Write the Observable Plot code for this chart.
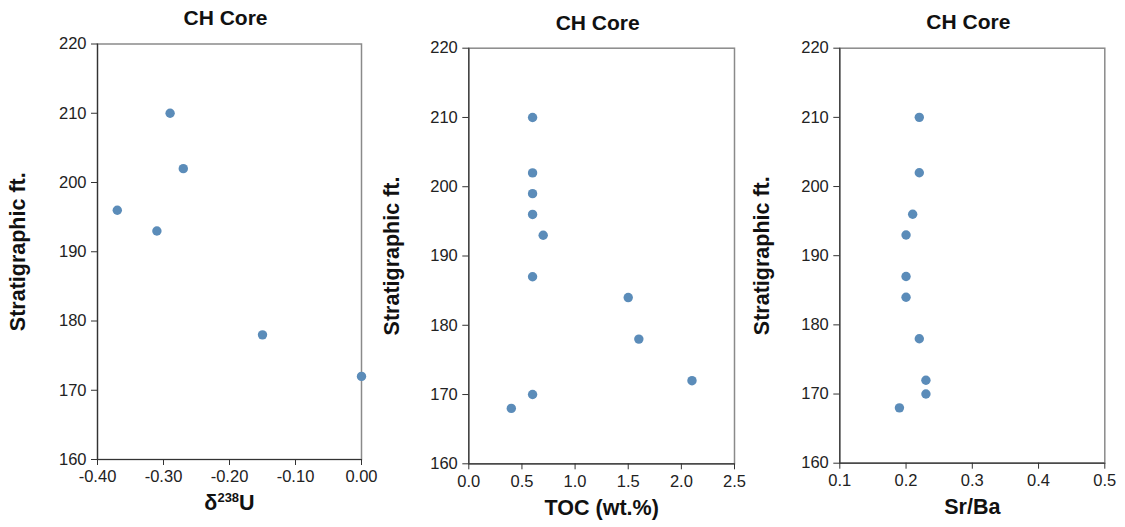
<!DOCTYPE html>
<html>
<head>
<meta charset="utf-8">
<script src="https://cdn.jsdelivr.net/npm/d3@7"></script>
<script src="https://cdn.jsdelivr.net/npm/@observablehq/plot@0.6"></script>
<style>
  html, body { margin: 0; padding: 0; background: #fff; }
  #wrap { position: relative; width: 1125px; height: 527px; overflow: hidden; background: #fff; }
  #wrap > div { position: absolute; top: 0; }
  svg { font-family: "Liberation Sans", Arial, Helvetica, sans-serif; overflow: visible; }
</style>
</head>
<body>
<div id="wrap">
  <div id="p1" style="left:0px; z-index:3"></div>
  <div id="p2" style="left:375px; z-index:2"></div>
  <div id="p3" style="left:750px; z-index:1"></div>
</div>
<script>
// Depth (stratigraphic ft.) and measured values
const uDepth  = [210, 202, 196, 193, 178, 172];
const uValue  = [-0.29, -0.27, -0.37, -0.31, -0.15, 0.00];

const tocDepth = [210, 202, 199, 196, 193, 187, 184, 178, 172, 170, 168];
const tocValue = [0.6, 0.6, 0.6, 0.6, 0.7, 0.6, 1.5, 1.6, 2.1, 0.6, 0.4];

const srDepth = [210, 202, 196, 193, 187, 184, 178, 172, 170, 168];
const srValue = [0.22, 0.22, 0.21, 0.20, 0.20, 0.20, 0.22, 0.23, 0.23, 0.19];

const yTicks = [160, 170, 180, 190, 200, 210, 220];
const uTicks = [-0.40, -0.30, -0.20, -0.10, 0.00];
const tocTicks = [0.0, 0.5, 1.0, 1.5, 2.0, 2.5];
const srTicks = [0.1, 0.2, 0.3, 0.4, 0.5];

const titleText = "CH Core";
const yLabel = "Stratigraphic ft.";
const xLabels = ["δ238U", "TOC (wt.%)", "Sr/Ba"];

const dotColor = "#5b8cb9";

function panel(cfg) {
  const data = cfg.values.map((v, i) => ({x: v, y: cfg.depth[i]}));
  return Plot.plot({
    width: 375,
    height: 527,
    marginLeft: cfg.ml,
    marginRight: cfg.mr,
    marginTop: cfg.mt,
    marginBottom: cfg.mb,
    style: {fontFamily: "'Liberation Sans', Arial, sans-serif", fontSize: "16.5px",
            background: "transparent", overflow: "visible"},
    x: {domain: cfg.xDomain},
    y: {domain: [160, 220]},
    marks: [
      Plot.frame({stroke: "#8a8a8a", strokeWidth: 1.5}),
      Plot.ruleY([160], {stroke: "#333", strokeWidth: 1.2}),
      Plot.ruleX([cfg.xDomain[0]], {stroke: "#333", strokeWidth: 1.2}),
      Plot.axisX({ticks: cfg.xTicks, tickFormat: cfg.fmt, tickSize: 6, tickPadding: 5,
                  fontSize: 16.5, label: null, stroke: "#333", fill: "#222"}),
      Plot.axisY({ticks: yTicks, tickFormat: d => String(d), tickSize: 6, tickPadding: 5,
                  fontSize: 16.5, label: null, stroke: "#333", fill: "#222"}),
      Plot.dot(data, {x: "x", y: "y", r: 4.7, fill: dotColor, stroke: "none"}),
      Plot.text([titleText], {text: d => d, frameAnchor: "top", dy: cfg.titleDy, dx: -4,
                  fontSize: 21, fontWeight: "bold", fill: "#111", lineAnchor: "middle"}),
      Plot.text([yLabel], {text: d => d, frameAnchor: "left", dx: cfg.yLabDx, rotate: -90,
                  fontSize: 21.5, fontWeight: "bold", fill: "#111", textAnchor: "middle", lineAnchor: "middle"}),
      Plot.text([cfg.xLabel], {text: d => d, frameAnchor: "bottom", dy: 44,
                  fontSize: 21.5, fontWeight: "bold", fill: "#111", lineAnchor: "middle"})
    ]
  });
}

const svg1 = panel({
  depth: uDepth, values: uValue, xDomain: [-0.40, 0.00], xTicks: uTicks, fmt: d => d.toFixed(2),
  ml: 97, mr: 14, mt: 43.5, mb: 68, titleDy: -25.5, yLabDx: -79, xLabel: xLabels[0]
});
document.getElementById("p1").appendChild(svg1);
document.getElementById("p2").appendChild(panel({
  depth: tocDepth, values: tocValue, xDomain: [0, 2.5], xTicks: tocTicks, fmt: d => d.toFixed(1),
  ml: 93.3, mr: 16, mt: 47.7, mb: 63.7, titleDy: -25, yLabDx: -76.6, xLabel: xLabels[1]
}));
document.getElementById("p3").appendChild(panel({
  depth: srDepth, values: srValue, xDomain: [0.1, 0.5], xTicks: srTicks, fmt: d => d.toFixed(1),
  ml: 89.3, mr: 20.7, mt: 47.7, mb: 64.3, titleDy: -26, yLabDx: -77.6, xLabel: xLabels[2]
}));

// Render the isotope label with a true superscript
svg1.querySelectorAll("text").forEach(t => {
  if (t.textContent === xLabels[0]) {
    const ns = "http://www.w3.org/2000/svg";
    while (t.firstChild) t.removeChild(t.firstChild);
    const a = document.createElementNS(ns, "tspan"); a.textContent = "δ";
    const b = document.createElementNS(ns, "tspan"); b.textContent = "238";
    b.setAttribute("font-size", "13"); b.setAttribute("dy", "-8");
    const c = document.createElementNS(ns, "tspan"); c.textContent = "U";
    c.setAttribute("dy", "8");
    t.appendChild(a); t.appendChild(b); t.appendChild(c);
  }
});
</script>
</body>
</html>
